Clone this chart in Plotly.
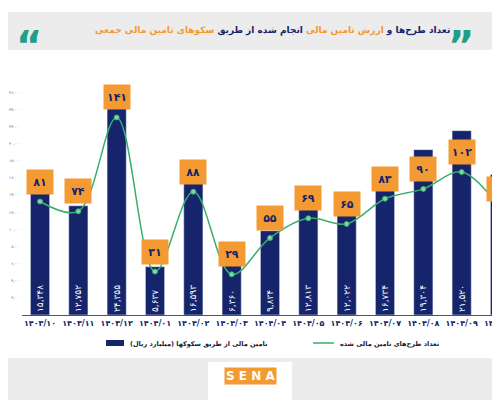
import plotly.graph_objects as go

# Data
months = ["1403/10", "1403/11", "1403/12", "1404/01", "1404/02", "1404/03", "1404/04",
          "1404/05", "1404/06", "1404/07", "1404/08", "1404/09", "1404/10"]
funding = [15348, 12752, 24355, 5637, 16593, 6360, 9834, 12813, 12022, 16734, 19304, 21520, 16411]
projects = [81, 74, 141, 31, 88, 29, 55, 69, 65, 83, 90, 102, 76]
y_ticks = [0, 2000, 4000, 6000, 8000, 10000, 12000, 14000, 16000, 18000, 20000, 22000, 24000, 26000]

FA = str.maketrans("0123456789", "۰۱۲۳۴۵۶۷۸۹")


def fa(s):
    return str(s).translate(FA)


NAVY = "#15246b"
ORANGE = "#f39a32"
GREEN = "#3aae6e"
FONT = "DejaVu Sans"


# pixel -> paper helpers (plot area: x 22..500, y 88..315 in the photographed page)
def px(x):
    return (x - 22) / 478


def py(y):
    return (315 - y) / 227


fig = go.Figure()
fig.add_trace(go.Bar(
    x=months, y=funding, marker_color=NAVY, width=0.5,
    text=[fa(f"{v:,}") for v in funding], textposition="inside",
    insidetextanchor="start", textangle=-90,
    textfont=dict(color="white", size=9, family=FONT),
))
fig.add_trace(go.Scatter(
    x=months, y=projects, yaxis="y2", mode="lines+markers",
    line=dict(color=GREEN, width=1.5, shape="spline"),
    marker=dict(size=5, color="#7fd6a0", line=dict(color=GREEN, width=1)),
))

ann = []
for m, p in zip(months, projects):
    ann.append(dict(x=m, y=p, yref="y2", text=f"<b>{fa(p)}</b>", showarrow=False,
                    yanchor="bottom", yshift=7, bgcolor=ORANGE, borderpad=3,
                    font=dict(size=11, color=NAVY, family=FONT), width=20, height=18))

title = ("<b>تعداد طرح‌ها و <span style='color:%s'>ارزش تامین مالی</span> انجام شده از طریق "
         "<span style='color:%s'>سکوهای تامین مالی جمعی</span></b>") % (ORANGE, ORANGE)
ann.append(dict(x=px(272), y=py(23), xref="paper", yref="paper", text=title, showarrow=False,
                font=dict(size=9, color=NAVY, family=FONT)))
ann.append(dict(x=px(476), y=py(21), xref="paper", yref="paper", text="<b>”</b>", showarrow=False,
                font=dict(size=40, color="#1f9e8a", family=FONT)))
ann.append(dict(x=px(14), y=py(21), xref="paper", yref="paper", text="<b>“</b>", showarrow=False,
                font=dict(size=40, color="#1f9e8a", family=FONT)))
ann.append(dict(x=px(338), y=py(350), xref="paper", yref="paper", xanchor="left",
                text="<b>تعداد طرح‌های تامین مالی شده</b>", showarrow=False,
                font=dict(size=6.5, color="#222", family=FONT)))
ann.append(dict(x=px(128), y=py(350), xref="paper", yref="paper", xanchor="left",
                text="<b>تامین مالی از طریق سکوکها (میلیارد ریال)</b>", showarrow=False,
                font=dict(size=6.5, color="#222", family=FONT)))
ann.append(dict(x=px(250), y=py(385), xref="paper", yref="paper",
                text="<b>S E N A</b>", showarrow=False, bgcolor=ORANGE,
                font=dict(size=12, color="white", family=FONT)))

shapes = [
    dict(type="rect", xref="paper", yref="paper", x0=px(0), x1=px(500), y0=py(12), y1=py(50),
         fillcolor="#ececec", line_width=0, layer="below"),
    dict(type="rect", xref="paper", yref="paper", x0=px(0), x1=px(500), y0=py(358), y1=py(408),
         fillcolor="#ececec", line_width=0, layer="below"),
    dict(type="rect", xref="paper", yref="paper", x0=px(208), x1=px(292), y0=py(362), y1=py(408),
         fillcolor="white", line_width=0, layer="below"),
    dict(type="rect", xref="paper", yref="paper", x0=px(106), x1=px(124), y0=py(340), y1=py(346),
         fillcolor=NAVY, line_width=0),
    dict(type="line", xref="paper", yref="paper", x0=px(313), x1=px(334), y0=py(343), y1=py(343),
         line=dict(color=GREEN, width=1.5)),
]

# the page is offset by ~8px, so margins are shifted to compensate
fig.update_layout(
    width=500, height=400, margin=dict(l=14, r=8, t=80, b=93, autoexpand=False),
    paper_bgcolor="white", plot_bgcolor="white", showlegend=False,
    font=dict(family=FONT),
    xaxis=dict(type="category", range=[-0.47, 12.0], showline=True, linecolor="#555",
               tickvals=months, ticktext=[f"<b>{fa(m)}</b>" for m in months],
               tickfont=dict(size=8, color=NAVY), ticks="", automargin=False),
    yaxis=dict(range=[0, 26500], tickvals=y_ticks, ticktext=[fa(f"{v:,}") for v in y_ticks],
               tickfont=dict(size=4, color="#555"), showgrid=False, zeroline=False,
               automargin=False),
    yaxis2=dict(overlaying="y", range=[0, 162], visible=False),
    annotations=ann, shapes=shapes,
)
fig.write_html("out.html")
